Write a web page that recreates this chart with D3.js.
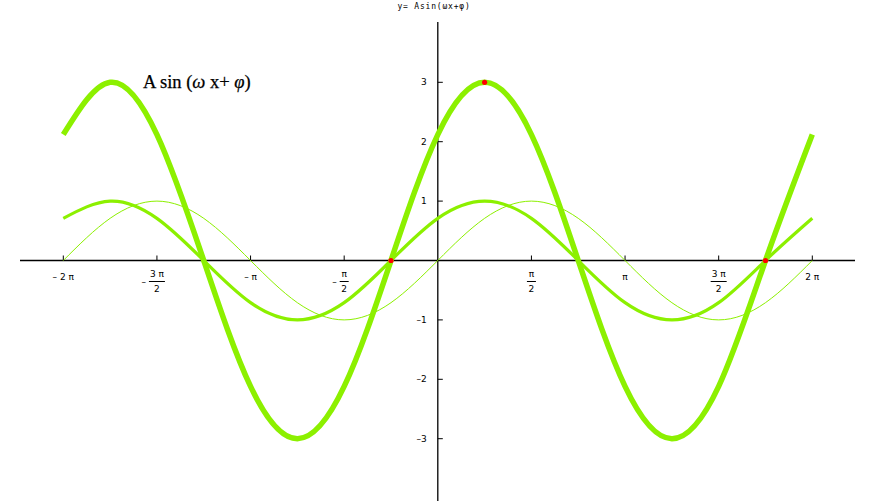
<!DOCTYPE html>
<html>
<head>
<meta charset="utf-8">
<script src="https://cdn.jsdelivr.net/npm/d3@7"></script>
<style>
  body { margin: 0; background: #fff; }
  svg { display: block; }
</style>
</head>
<body>
<svg id="chart" width="877" height="501"></svg>
<script>
// x positions, in multiples of pi
const xPi = [-2, -1.75, -1.5, -1.25, -1, -0.75, -0.5, -0.25, 0, 0.25, 0.5, 0.75, 1, 1.25, 1.5, 1.75, 2]

// values at those x
const sinThin = [0, 0.71, 1, 0.71, 0, -0.71, -1, -0.71, 0, 0.71, 1, 0.71, 0, -0.71, -1, -0.71, 0]
const sinShift = [0.71, 1, 0.71, 0, -0.71, -1, -0.71, 0, 0.71, 1, 0.71, 0, -0.71, -1, -0.71, 0, 0.71]
const sinBig = [2.12, 3, 2.12, 0, -2.12, -3, -2.12, 0, 2.12, 3, 2.12, 0, -2.12, -3, -2.12, 0, 2.12]

// red points [xPi, y]
const redPoints = [[-0.25, 0], [0.25, 3], [1.75, 0]]

// x tick labels: value in pi, numerator, denominator (null = plain), sign
const xTicks = [
  { v: -2, num: '2 π', den: null, neg: true },
  { v: -1.5, num: '3 π', den: '2', neg: true },
  { v: -1, num: 'π', den: null, neg: true },
  { v: -0.5, num: 'π', den: '2', neg: true },
  { v: 0.5, num: 'π', den: '2', neg: false },
  { v: 1, num: 'π', den: null, neg: false },
  { v: 1.5, num: '3 π', den: '2', neg: false },
  { v: 2, num: '2 π', den: null, neg: false }
]
const yTicks = [-3, -2, -1, 1, 2, 3]

const green = '#8cf000'
const svg = d3.select('#chart')

const x = d3.scaleLinear().domain([-2 * Math.PI, 2 * Math.PI]).range([63.3, 812.3])
const y = d3.scaleLinear().domain([-3, 3]).range([438.7, 82.3])

const x0 = x(0), y0 = y(0)

// axes
svg.append('line')
  .attr('x1', 20).attr('x2', 855)
  .attr('y1', y0).attr('y2', y0)
  .attr('stroke', '#000').attr('stroke-width', 1.3)
svg.append('line')
  .attr('x1', x0).attr('x2', x0)
  .attr('y1', 22).attr('y2', 501)
  .attr('stroke', '#000').attr('stroke-width', 1.3)

// x ticks
const tickFont = '"DejaVu Sans", sans-serif'
xTicks.forEach(t => {
  const px = x(t.v * Math.PI)
  svg.append('line')
    .attr('x1', px).attr('x2', px)
    .attr('y1', y0 - 5).attr('y2', y0)
    .attr('stroke', '#000').attr('stroke-width', 1)
  if (t.den === null) {
    svg.append('text')
      .attr('x', px).attr('y', y0 + 19)
      .attr('text-anchor', 'middle')
      .attr('font-family', tickFont).attr('font-size', 9)
      .text((t.neg ? '– ' : '') + t.num)
  } else {
    const w = t.num.length > 1 ? 16 : 9
    svg.append('text')
      .attr('x', px).attr('y', y0 + 16)
      .attr('text-anchor', 'middle')
      .attr('font-family', tickFont).attr('font-size', 9)
      .text(t.num)
    svg.append('line')
      .attr('x1', px - w / 2).attr('x2', px + w / 2)
      .attr('y1', y0 + 21).attr('y2', y0 + 21)
      .attr('stroke', '#000').attr('stroke-width', 1)
    svg.append('text')
      .attr('x', px).attr('y', y0 + 31)
      .attr('text-anchor', 'middle')
      .attr('font-family', tickFont).attr('font-size', 9)
      .text(t.den)
    if (t.neg) {
      svg.append('text')
        .attr('x', px - w / 2 - 3).attr('y', y0 + 24)
        .attr('text-anchor', 'end')
        .attr('font-family', tickFont).attr('font-size', 9)
        .text('–')
    }
  }
})

// y ticks
yTicks.forEach(v => {
  const py = y(v)
  svg.append('line')
    .attr('x1', x0).attr('x2', x0 + 5)
    .attr('y1', py).attr('y2', py)
    .attr('stroke', '#000').attr('stroke-width', 1)
  svg.append('text')
    .attr('x', x0 - 11).attr('y', py + 3)
    .attr('text-anchor', 'end')
    .attr('font-family', tickFont).attr('font-size', 9)
    .text(v < 0 ? '–' + Math.abs(v) : v)
})

// curves
const line = d3.line()
  .x((d, i) => x(xPi[i] * Math.PI))
  .y(d => y(d))
  .curve(d3.curveNatural)

const series = [
  { values: sinThin, width: 1 },
  { values: sinShift, width: 3.2 },
  { values: sinBig, width: 5.5 }
]
series.forEach(s => {
  svg.append('path')
    .datum(s.values)
    .attr('d', line)
    .attr('fill', 'none')
    .attr('stroke', green)
    .attr('stroke-width', s.width)
})

svg.selectAll('circle.pt')
  .data(redPoints)
  .enter().append('circle')
  .attr('class', 'pt')
  .attr('cx', d => x(d[0] * Math.PI))
  .attr('cy', d => y(d[1]))
  .attr('r', 2.6)
  .attr('fill', '#f00')

// title
svg.append('text')
  .attr('x', 434).attr('y', 9)
  .attr('text-anchor', 'middle')
  .attr('font-family', '"DejaVu Sans Mono", monospace')
  .attr('font-size', 8)
  .attr('letter-spacing', 0.8)
  .text('y= Asin(ωx+φ)')

// label
const lab = svg.append('text')
  .attr('x', 143).attr('y', 88)
  .attr('font-family', '"Liberation Serif", serif')
  .attr('font-size', 18.5)
  .attr('stroke', '#000').attr('stroke-width', 0.25)
lab.append('tspan').text('A sin (')
lab.append('tspan').attr('font-style', 'italic').text('ω')
lab.append('tspan').text(' x+ ')
lab.append('tspan').attr('font-style', 'italic').text('φ')
lab.append('tspan').text(')')
</script>
</body>
</html>
